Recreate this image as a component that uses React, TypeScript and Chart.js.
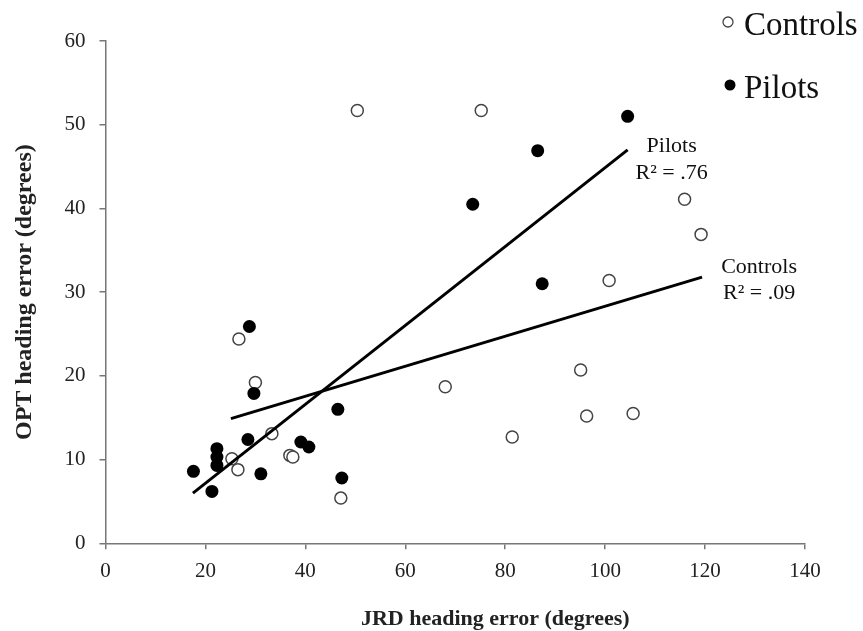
import React, { useEffect, useRef } from "react";
import { Chart, registerables } from "chart.js";

Chart.register(...registerables);

// Controls (open circles): JRD heading error (x), OPT heading error (y)
const controlsX = [50.4, 75.2, 115.9, 119.2, 100.8, 95.1, 68.0, 96.3, 105.6, 81.4, 26.7, 30.0, 33.3, 36.9, 37.5, 25.3, 26.5, 47.1];
const controlsY = [51.7, 51.7, 41.1, 36.9, 31.4, 20.7, 18.7, 15.2, 15.5, 12.7, 24.4, 19.2, 13.1, 10.5, 10.3, 10.1, 8.8, 5.4];

// Pilots (filled circles)
const pilotsX = [104.5, 86.5, 73.5, 87.4, 28.8, 29.7, 46.5, 28.5, 39.1, 40.7, 22.3, 22.3, 22.3, 17.6, 31.1, 21.3, 47.3];
const pilotsY = [51.0, 46.9, 40.5, 31.0, 25.9, 17.9, 16.0, 12.4, 12.1, 11.5, 11.3, 10.3, 9.3, 8.6, 8.3, 6.2, 7.8];

// Regression lines (endpoints)
const pilotsFitX = [17.5, 104.5];
const pilotsFitY = [6.0, 47.0];
const controlsFitX = [25.1, 119.4];
const controlsFitY = [14.9, 31.8];

const seriesNames = ["Controls", "Pilots"];
const pilotsR2 = "R\u00B2 = .76";
const controlsR2 = "R\u00B2 = .09";

const xTitle = "JRD heading error (degrees)";
const yTitle = "OPT heading error (degrees)";
const xMin = 0, xMax = 140, xStep = 20;
const yMin = 0, yMax = 60, yStep = 10;

const SERIF = "'Liberation Serif', 'Times New Roman', serif";

const zip = (xs: number[], ys: number[]) => xs.map((x, i) => ({ x, y: ys[i] }));

const overlayPlugin = {
  id: "overlay",
  afterDraw(chart: any) {
    const ctx = chart.ctx;
    const xs = chart.scales.x;
    const ys = chart.scales.y;
    const area = chart.chartArea;
    ctx.save();
    ctx.fillStyle = "#111";
    ctx.textAlign = "center";
    ctx.textBaseline = "middle";
    // Regression labels, anchored at the upper end of each line
    ctx.font = `22px ${SERIF}`;
    const pX = xs.getPixelForValue(pilotsFitX[1]);
    const pY = ys.getPixelForValue(pilotsFitY[1]);
    ctx.fillText(seriesNames[1], pX + 44, pY - 4);
    ctx.fillText(pilotsR2, pX + 44, pY + 23);
    const cX = xs.getPixelForValue(controlsFitX[1]);
    const cY = ys.getPixelForValue(controlsFitY[1]);
    ctx.fillText(seriesNames[0], cX + 57, cY - 10);
    ctx.fillText(controlsR2, cX + 57, cY + 16);

    // X axis title (sits slightly right of centre in the original)
    ctx.font = `bold 22px ${SERIF}`;
    ctx.fillStyle = "#222";
    ctx.fillText(xTitle, (area.left + area.right) / 2 + 40, chart.height - 12);

    // Legend (top right)
    const lx = chart.width - 135;
    ctx.textAlign = "left";
    ctx.font = `33px ${SERIF}`;
    ctx.beginPath();
    ctx.arc(lx, 22, 5, 0, Math.PI * 2);
    ctx.fillStyle = "#fff";
    ctx.fill();
    ctx.lineWidth = 1.3;
    ctx.strokeStyle = "#444";
    ctx.stroke();
    ctx.fillStyle = "#111";
    ctx.fillText(seriesNames[0], lx + 16, 26);
    ctx.beginPath();
    ctx.arc(lx + 2, 85, 5.5, 0, Math.PI * 2);
    ctx.fillStyle = "#000";
    ctx.fill();
    ctx.fillStyle = "#111";
    ctx.fillText(seriesNames[1], lx + 16, 89);
    ctx.restore();
  },
};

export default function App() {
  const ref = useRef<HTMLCanvasElement | null>(null);
  useEffect(() => {
    if (!ref.current) return;
    const chart = new Chart(ref.current, {
      type: "scatter",
      data: {
        datasets: [
          {
            label: seriesNames[0],
            data: zip(controlsX, controlsY),
            pointRadius: 6,
            pointBackgroundColor: "#fff",
            pointBorderColor: "#444",
            pointBorderWidth: 1.5,
            order: 2,
          },
          {
            label: seriesNames[1],
            data: zip(pilotsX, pilotsY),
            pointRadius: 6.5,
            pointBackgroundColor: "#000",
            pointBorderColor: "#000",
            pointBorderWidth: 0,
            order: 1,
          },
          {
            label: "Pilots fit",
            type: "line" as any,
            data: zip(pilotsFitX, pilotsFitY),
            showLine: true,
            borderColor: "#000",
            borderWidth: 3,
            pointRadius: 0,
            fill: false,
            order: 0,
          },
          {
            label: "Controls fit",
            type: "line" as any,
            data: zip(controlsFitX, controlsFitY),
            showLine: true,
            borderColor: "#000",
            borderWidth: 3,
            pointRadius: 0,
            fill: false,
            order: 0,
          },
        ],
      },
      options: {
        animation: false,
        responsive: true,
        maintainAspectRatio: false,
        layout: { padding: { top: 41, right: 58, left: 0, bottom: 0 } },
        plugins: {
          legend: { display: false },
          tooltip: { enabled: false },
        },
        scales: {
          x: {
            type: "linear",
            min: xMin,
            max: xMax,
            ticks: {
              stepSize: xStep,
              padding: 10,
              color: "#222",
              font: { family: SERIF, size: 21 },
            },
            grid: { drawOnChartArea: false, drawTicks: true, tickLength: 6, color: "#777", lineWidth: 1.5 },
            border: { color: "#777", width: 1.5 },
            title: { display: false },
            afterFit: (s: any) => {
              s.height = 87.7;
            },
          },
          y: {
            type: "linear",
            min: yMin,
            max: yMax,
            ticks: {
              stepSize: yStep,
              padding: 14,
              color: "#222",
              font: { family: SERIF, size: 21 },
            },
            grid: { drawOnChartArea: false, drawTicks: true, tickLength: 6, color: "#777", lineWidth: 1.5 },
            border: { color: "#777", width: 1.5 },
            title: {
              display: true,
              text: yTitle,
              color: "#222",
              font: { family: SERIF, size: 24, weight: "bold" },
              padding: { top: 10, bottom: 0 },
            },
            afterFit: (s: any) => {
              s.width = 105.5;
            },
          },
        },
      },
      plugins: [overlayPlugin],
    });
    return () => chart.destroy();
  }, []);

  return (
    <div style={{ position: "fixed", left: 0, top: 0, width: 863, height: 631, background: "#fff" }}>
      <canvas ref={ref} />
    </div>
  );
}
